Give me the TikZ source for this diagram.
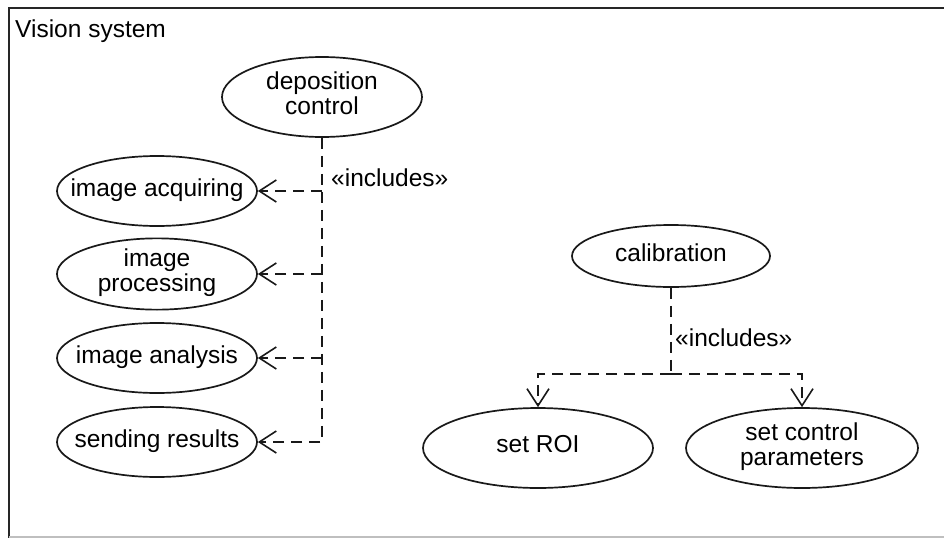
\documentclass[tikz,border=0pt]{standalone}
\usepackage{fontspec}
\setmainfont{Liberation Sans}
\usetikzlibrary{arrows.meta,shapes.geometric}
\newcommand{\uctext}[1]{\makebox[0pt][c]{\begin{tabular}{@{}c@{}}#1\end{tabular}}}
\begin{document}
\begin{tikzpicture}[x=1pt,y=-1pt,
  uc/.style={draw=black!90, line width=1.7pt, ellipse, inner sep=0pt,
    font=\fontsize{24.5}{27}\selectfont\renewcommand{\arraystretch}{0.92}, text=black},
  dep/.style={draw=black!90, line width=1.8pt, dash pattern=on 11pt off 7pt,
    -{Straight Barb[length=17pt,width=22pt,line width=1.6pt]}},
  depl/.style={draw=black!90, line width=1.8pt, dash pattern=on 11pt off 7pt},
  lbl/.style={font=\fontsize{24.5}{27}\selectfont, text=black, inner sep=0pt, anchor=west}]
\useasboundingbox (0,0) rectangle (944,538);
\fill[white] (0,0) rectangle (944,538);
% frame
\draw[black!85, line width=2.2pt] (944,8) -- (9,8) -- (9,538);
\draw[black!25, line width=1.2pt] (9,537) -- (944,537);
\node[lbl] (title) at (15,31) {Vision system};
% left group
\node[uc, minimum width=200pt, minimum height=80pt] (dc) at (322,97) {\uctext{deposition\\control}};
\node[uc, minimum width=200pt, minimum height=70pt] (ia) at (157,191) {\uctext{image acquiring}};
\node[uc, minimum width=200pt, minimum height=70pt] (ip) at (157,274) {\uctext{image\\processing}};
\node[uc, minimum width=200pt, minimum height=70pt] (an) at (157,358) {\uctext{image analysis}};
\node[uc, minimum width=200pt, minimum height=70pt] (sr) at (157,442) {\uctext{sending results}};
\draw[dep] (dc.south) |- (sr.east);
\draw[dep] (dc.south |- ia.east) -- (ia.east);
\draw[dep] (dc.south |- ip.east) -- (ip.east);
\draw[dep] (dc.south |- an.east) -- (an.east);
\node[lbl] (inc1) at (331,178) {«includes»};
% right group
\node[uc, minimum width=198pt, minimum height=62pt] (cal) at (671,256) {\uctext{calibration}};
\node[uc, minimum width=230pt, minimum height=80pt] (roi) at (538,448) {\uctext{set ROI}};
\node[uc, minimum width=232pt, minimum height=80pt] (scp) at (802,448) {\uctext{set control\\parameters}};
\coordinate (split) at (671,374);
\draw[depl] (cal.south) -- (split);
\draw[dep] (split) -| (roi.north);
\draw[dep] (split) -| (scp.north);
\node[lbl] (inc2) at (675,338) {«includes»};
\end{tikzpicture}
\end{document}
